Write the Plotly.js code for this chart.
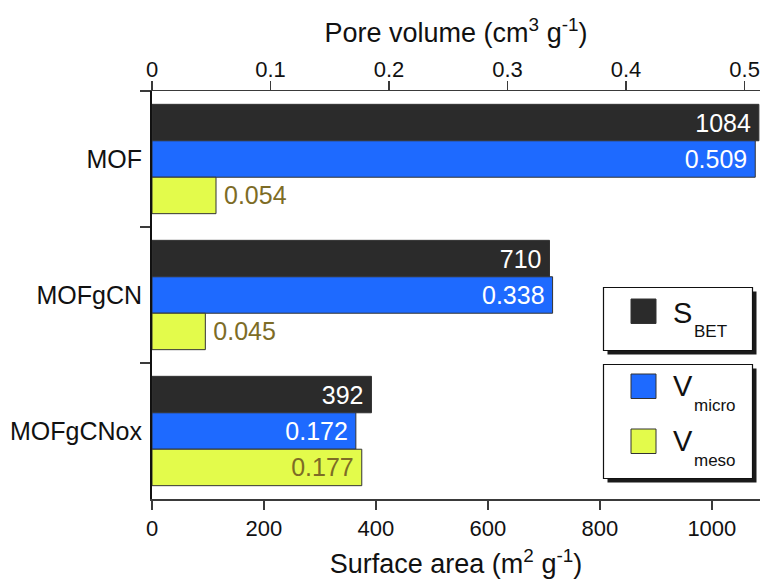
<!DOCTYPE html>
<html>
<head>
<meta charset="utf-8">
<script src="https://cdn.plot.ly/plotly-3.0.1.min.js"></script>
<style>
  html, body { margin: 0; padding: 0; background: #fff; }
  #chart { width: 762px; height: 580px; }
</style>
</head>
<body>
<div id="chart"></div>
<script>
// ---- data ----
const categories = ['MOF', 'MOFgCN', 'MOFgCNox'];
const sBET = [1084, 710, 392];          // surface area, m2 g-1
const vMicro = [0.509, 0.338, 0.172];   // pore volume, cm3 g-1
const vMeso = [0.054, 0.045, 0.177];    // pore volume, cm3 g-1
const seriesMain = ['S', 'V', 'V'];
const seriesSub = ['BET', 'micro', 'meso'];
const areaTicks = [0, 200, 400, 600, 800, 1000];
const volumeTicks = [0, 0.1, 0.2, 0.3, 0.4, 0.5];
const mesoTextPos = ['outside', 'outside', 'inside'];

// ---- style ----
const FONT = 'Liberation Sans, Arial, Helvetica, sans-serif';
const colors = ['#2b2b2b', '#1e6aff', '#e3fb4b'];
const mesoText = '#7d6c26';
const TS = '\u2009';
const W = 762, H = 580;
const M = {l: 152, r: 2, t: 91, b: 81};
const PW = W - M.l - M.r, PH = H - M.t - M.b;
const px = x => (x - M.l) / PW;
const py = y => (H - M.b - y) / PH;

const barW = 0.268;
const offs = [-0.402, -0.134, 0.134];
const lineStyle = {color: '#333', width: 1};

const traces = [
  {
    type: 'bar', orientation: 'h', name: seriesMain[0] + seriesSub[0],
    y: categories, x: sBET, xaxis: 'x', yaxis: 'y',
    width: barW, offset: offs[0],
    marker: {color: colors[0], line: lineStyle},
    texttemplate: '%{x}' + TS, textposition: 'inside', insidetextanchor: 'end',
    textangle: 0, constraintext: 'none',
    insidetextfont: {family: FONT, size: 25, color: '#ffffff'},
    hoverinfo: 'x+y', showlegend: false
  },
  {
    type: 'bar', orientation: 'h', name: seriesMain[1] + seriesSub[1],
    y: categories, x: vMicro, xaxis: 'x2', yaxis: 'y',
    width: barW, offset: offs[1],
    marker: {color: colors[1], line: lineStyle},
    texttemplate: '%{x:.3f}' + TS, textposition: 'inside', insidetextanchor: 'end',
    textangle: 0, constraintext: 'none',
    insidetextfont: {family: FONT, size: 25, color: '#ffffff'},
    hoverinfo: 'x+y', showlegend: false
  },
  {
    type: 'bar', orientation: 'h', name: seriesMain[2] + seriesSub[2],
    y: categories, x: vMeso, xaxis: 'x2', yaxis: 'y',
    width: barW, offset: offs[2],
    marker: {color: colors[2], line: lineStyle},
    texttemplate: mesoTextPos.map(p => p === 'outside' ? TS + '%{x:.3f}' : '%{x:.3f}' + TS),
    textposition: mesoTextPos, insidetextanchor: 'end',
    textangle: 0, constraintext: 'none', cliponaxis: false,
    insidetextfont: {family: FONT, size: 25, color: mesoText},
    outsidetextfont: {family: FONT, size: 25, color: mesoText},
    hoverinfo: 'x+y', showlegend: false
  }
];

// ---- legend drawn as shapes + annotations ----
const shapes = [];
const annotations = [];
function rect(x0, y0, x1, y1, fill, line) {
  shapes.push({type: 'rect', xref: 'paper', yref: 'paper',
    x0: px(x0), x1: px(x1), y0: py(y1), y1: py(y0),
    fillcolor: fill, line: line || {width: 0}, layer: 'above'});
}
const boxes = [[603.5, 287.5, 752.5, 350.5], [603.5, 364.5, 752.5, 478.5]];
boxes.forEach(b => {
  rect(b[0] + 4, b[1] + 4, b[2] + 4, b[3] + 4, '#1a1a1a');
  rect(b[0], b[1], b[2], b[3], '#ffffff', {color: '#111', width: 1.2});
});
const swatchTop = [299, 374, 429];
const mainCenter = [312.5, 386, 441];
const subCenter = [331, 405.5, 460.5];
for (let i = 0; i < 3; i++) {
  rect(631, swatchTop[i], 656, swatchTop[i] + 24.5, colors[i], {color: '#333', width: 1});
  annotations.push({xref: 'paper', yref: 'paper', x: px(671), y: py(mainCenter[i]),
    xanchor: 'left', yanchor: 'middle', showarrow: false, text: seriesMain[i],
    font: {family: FONT, size: 29, color: '#111'}});
  annotations.push({xref: 'paper', yref: 'paper', x: px(692), y: py(subCenter[i]),
    xanchor: 'left', yanchor: 'middle', showarrow: false, text: seriesSub[i],
    font: {family: FONT, size: 17, color: '#111'}});
}

const axisLine = '#3a3a3a';
const layout = {
  width: W, height: H,
  margin: M,
  paper_bgcolor: '#ffffff', plot_bgcolor: '#ffffff',
  font: {family: FONT, color: '#111'},
  barmode: 'overlay',
  showlegend: false,
  xaxis: {
    range: [0, 1086], tickvals: areaTicks, ticktext: areaTicks.map(String),
    showgrid: false, zeroline: false,
    showline: true, linecolor: axisLine, linewidth: 1.5,
    ticks: 'outside', ticklen: 9, tickwidth: 1.5, tickcolor: axisLine,
    tickfont: {family: FONT, size: 22, color: '#111'},
    title: {text: 'Surface area (m<sup>2</sup> g<sup>-1</sup>)', standoff: 14,
      font: {family: FONT, size: 27, color: '#111'}}
  },
  xaxis2: {
    overlaying: 'x', side: 'top', anchor: 'y',
    range: [0, 0.513], tickvals: volumeTicks, ticktext: volumeTicks.map(String),
    showgrid: false, zeroline: false,
    showline: true, linecolor: axisLine, linewidth: 1.5,
    ticks: 'outside', ticklen: 9, tickwidth: 1.5, tickcolor: axisLine,
    ticklabelstandoff: -5,
    tickfont: {family: FONT, size: 22, color: '#111'},
    title: {text: 'Pore volume (cm<sup>3</sup> g<sup>-1</sup>)', standoff: 6,
      font: {family: FONT, size: 27, color: '#111'}}
  },
  yaxis: {
    type: 'category', categoryarray: categories, range: [2.5, -0.5],
    showgrid: false, zeroline: false,
    showline: true, linecolor: '#111', linewidth: 2,
    ticks: 'outside', tickson: 'boundaries', ticklen: 10, tickwidth: 1.5, tickcolor: axisLine,
    ticklabelstandoff: 3,
    tickfont: {family: FONT, size: 25, color: '#111'}
  },
  shapes: shapes,
  annotations: annotations
};

Plotly.newPlot('chart', traces, layout, {displayModeBar: false, staticPlot: true});
</script>
</body>
</html>
